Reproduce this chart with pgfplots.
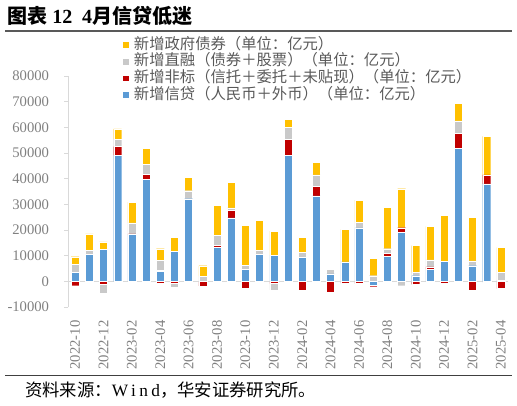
\documentclass[border=0pt]{standalone}
\usepackage{fontspec}
\setmainfont{Liberation Serif}
\newfontfamily\cjk{Noto Sans CJK SC}
\usepackage{pgfplots}
\pgfplotsset{compat=1.18}
\usepackage{pgfplotstable}
\definecolor{cblue}{HTML}{5B9BD5}
\definecolor{cred}{HTML}{C00000}
\definecolor{cgrey}{HTML}{C9C9C9}
\definecolor{cyellow}{HTML}{FFC000}
\definecolor{axgrey}{HTML}{D9D9D9}
\definecolor{lblgrey}{HTML}{808080}
\definecolor{leggrey}{HTML}{595959}

% positive parts: x, credit (blue), non-standard (red), direct financing (grey), gov bonds (yellow)
\pgfplotstableread{
x B R G Y
0 3400 0 3300 2900
1 10500 0 1500 6500
2 12500 0 0 2900
3 49100 3400 2900 4000
4 18200 300 4300 8100
5 39800 2000 3900 6000
6 3900 300 3900 4600
7 11700 0 0 5500
8 32200 0 3100 5100
9 0 0 2000 4100
10 13200 800 4000 11700
11 24700 3000 900 9900
12 4800 0 1400 15600
13 10600 0 1600 11600
14 10200 0 0 9400
15 49200 6100 4700 3000
16 9400 0 1800 6000
17 33300 3800 4400 4800
18 2900 0 1800 0
19 7600 0 0 12600
20 20800 0 2300 8500
21 0 0 2200 6800
22 9700 1200 1800 16200
23 19200 1700 0 15200
24 2200 0 1300 10400
25 4700 900 2800 13000
26 7800 0 0 17800
27 51900 5700 4900 6900
28 6100 0 1900 16900
29 38000 3500 0 15000
30 500 0 3000 9700
}\pos

% negative parts
\pgfplotstableread{
x B R G Y
0 0 -1700 0 0
1 0 -300 0 0
2 0 -1200 -3600 0
6 0 -800 0 0
7 0 -900 -1500 0
8 0 -400 0 0
9 0 -1800 0 0
12 0 -2600 0 0
14 0 -900 -2400 0
16 0 -3300 0 0
18 0 -4200 0 -600
19 0 -800 0 0
20 0 -900 0 0
21 -1400 -700 0 0
23 0 0 -1700 0
24 0 -1200 0 0
26 0 -800 0 0
28 0 -3300 0 0
29 0 0 -400 0
30 0 -2800 0 0
}\neg

\pgfplotsset{
  common/.style={
    width=330pt, height=173.25pt, scale only axis,
    at={(51pt,73.5pt)}, anchor=south west,
    xmin=-0.5, xmax=30.5, ymin=-10000, ymax=80000,
    ybar stacked, bar width=6pt,
  },
  barsty/.style={fill=#1, draw=white, line width=0.25pt,
    legend image code/.code={\fill[fill=#1] (0pt,-2.6pt) rectangle (5.2pt,2.6pt);}},
}

\begin{document}
\begin{tikzpicture}
\path[use as bounding box] (0,0) rectangle (387.75pt,303.75pt);

\begin{axis}[common, hide axis]
\addplot[barsty=cblue] table[x=x,y=B] {\neg};
\addplot[barsty=cred] table[x=x,y=R] {\neg};
\addplot[barsty=cgrey] table[x=x,y=G] {\neg};
\addplot[barsty=cyellow] table[x=x,y=Y] {\neg};
\end{axis}

\begin{axis}[common,
  axis lines*=left,
  x axis line style={draw=none},
  y axis line style={draw=axgrey, line width=0.75pt},
  xtick={0,2,4,6,8,10,12,14,16,18,20,22,24,26,28,30},
  xticklabels={2022-10,2022-12,2023-02,2023-04,2023-06,2023-08,2023-10,2023-12,2024-02,2024-04,2024-06,2024-08,2024-10,2024-12,2025-02,2025-04},
  xtick style={draw=none},
  ytick={-10000,0,10000,20000,30000,40000,50000,60000,70000,80000},
  ytick style={draw=axgrey, line width=0.75pt},
  tick align=outside, major tick length=3pt,
  extra y ticks={0}, extra y tick labels={},
  extra y tick style={grid=major, major grid style={draw=axgrey, line width=0.9pt}, ytick style={draw=none}},
  scaled y ticks=false,
  /pgf/number format/1000 sep={},
  /pgf/number format/assume math mode=true,
  tick label style={font=\fontsize{11}{13}\selectfont, text=lblgrey},
  xticklabel style={rotate=90, anchor=east, inner sep=0pt},
  xticklabel shift=7pt,
  yticklabel style={anchor=east, inner sep=0pt},
  yticklabel shift=11pt,
  reverse legend,
  legend cell align=left,
  legend style={at={(axis description cs:0.122,1.171)}, anchor=north west,
    draw=none, fill=none, inner sep=0pt, outer sep=0pt,
    font=\cjk\fontsize{11.5}{12.4}\selectfont, text=leggrey,
    row sep=0pt,
    nodes={inner sep=0pt, text height=9.6pt, text depth=2.9pt},
    /tikz/every odd column/.append style={column sep=3.75pt}},
]
\addplot[barsty=cblue] table[x=x,y=B] {\pos};
\addlegendentry{新增信贷（人民币＋外币）（单位：亿元）}
\addplot[barsty=cred] table[x=x,y=R] {\pos};
\addlegendentry{新增非标（信托＋委托＋未贴现）（单位：亿元）}
\addplot[barsty=cgrey] table[x=x,y=G] {\pos};
\addlegendentry{新增直融（债券＋股票）（单位：亿元）}
\addplot[barsty=cyellow] table[x=x,y=Y] {\pos};
\addlegendentry{新增政府债券（单位：亿元）}
\end{axis}

\node[anchor=west, inner sep=0pt] at (5.25pt,291.75pt)
  {\fontsize{15}{17}\selectfont{\cjk\bfseries 图表}\ \textbf{12}\ \ \textbf{4}{\cjk\bfseries 月信贷低迷}};
\draw[draw=leggrey, line width=1.1pt] (3.75pt,280.5pt) -- (384pt,280.5pt);
\draw[draw=black!75, line width=0.7pt] (3.75pt,22.5pt) -- (384pt,22.5pt);
\node[anchor=west, inner sep=0pt] at (18.75pt,11.25pt)
  {\fontsize{13}{15}\selectfont{\cjk 资料来源：}{\addfontfeature{LetterSpace=20}Wind}{\cjk ，华安证券研究所。}};
\end{tikzpicture}
\end{document}
